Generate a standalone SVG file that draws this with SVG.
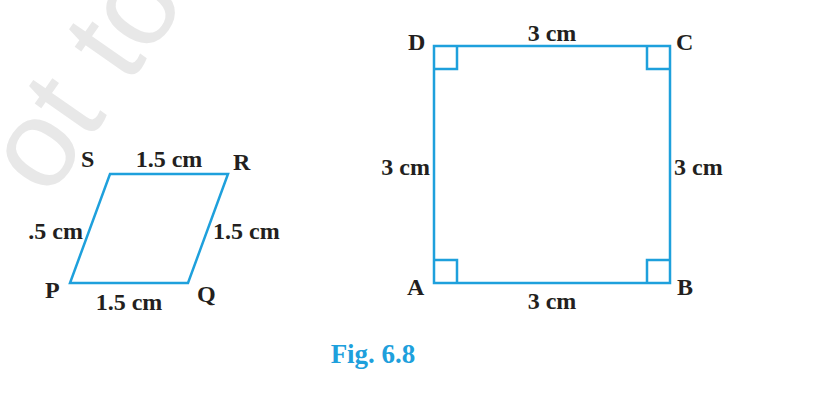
<svg xmlns="http://www.w3.org/2000/svg" width="838" height="418" viewBox="0 0 838 418">
<style>
.l{fill:none;stroke:#1ea0dc;stroke-width:2.5}
.t{font-family:"Liberation Serif",serif;font-weight:bold;font-size:24px;fill:#231f20}
</style>
<rect width="838" height="418" fill="#fff"/>
<text x="48" y="200" transform="rotate(-55 48 200)" font-family="Liberation Sans,sans-serif" font-size="125" fill="#e8e8e8">ot to</text>
<g id="connectors"></g>
<g id="rhombus">
<polygon class="l" points="70,283 188,283 228,174 110,174"/>
<text class="t" x="81" y="167">S</text>
<text class="t" x="233" y="170">R</text>
<text class="t" x="45" y="298">P</text>
<text class="t" x="197" y="302">Q</text>
<text class="t" x="169" y="167" text-anchor="middle">1.5 cm</text>
<text class="t" x="129" y="310" text-anchor="middle">1.5 cm</text>
<text class="t" x="213" y="239">1.5 cm</text>
<text class="t" x="83" y="239" text-anchor="end">.5 cm</text>
</g>
<g id="square">
<rect class="l" x="434" y="46" width="236" height="237"/>
<path class="l" d="M434,69H457V46M647,46V69H670M434,260H457V283M647,283V260H670"/>
<text class="t" x="408" y="50">D</text>
<text class="t" x="676" y="50">C</text>
<text class="t" x="407" y="295">A</text>
<text class="t" x="677" y="295">B</text>
<text class="t" x="552" y="41" text-anchor="middle">3 cm</text>
<text class="t" x="552" y="309" text-anchor="middle">3 cm</text>
<text class="t" x="430" y="175" text-anchor="end">3 cm</text>
<text class="t" x="674" y="175">3 cm</text>
</g>
<text x="373" y="363" text-anchor="middle" font-family="Liberation Serif,serif" font-weight="bold" font-size="27" fill="#1ea0dc">Fig.  6.8</text>
</svg>
